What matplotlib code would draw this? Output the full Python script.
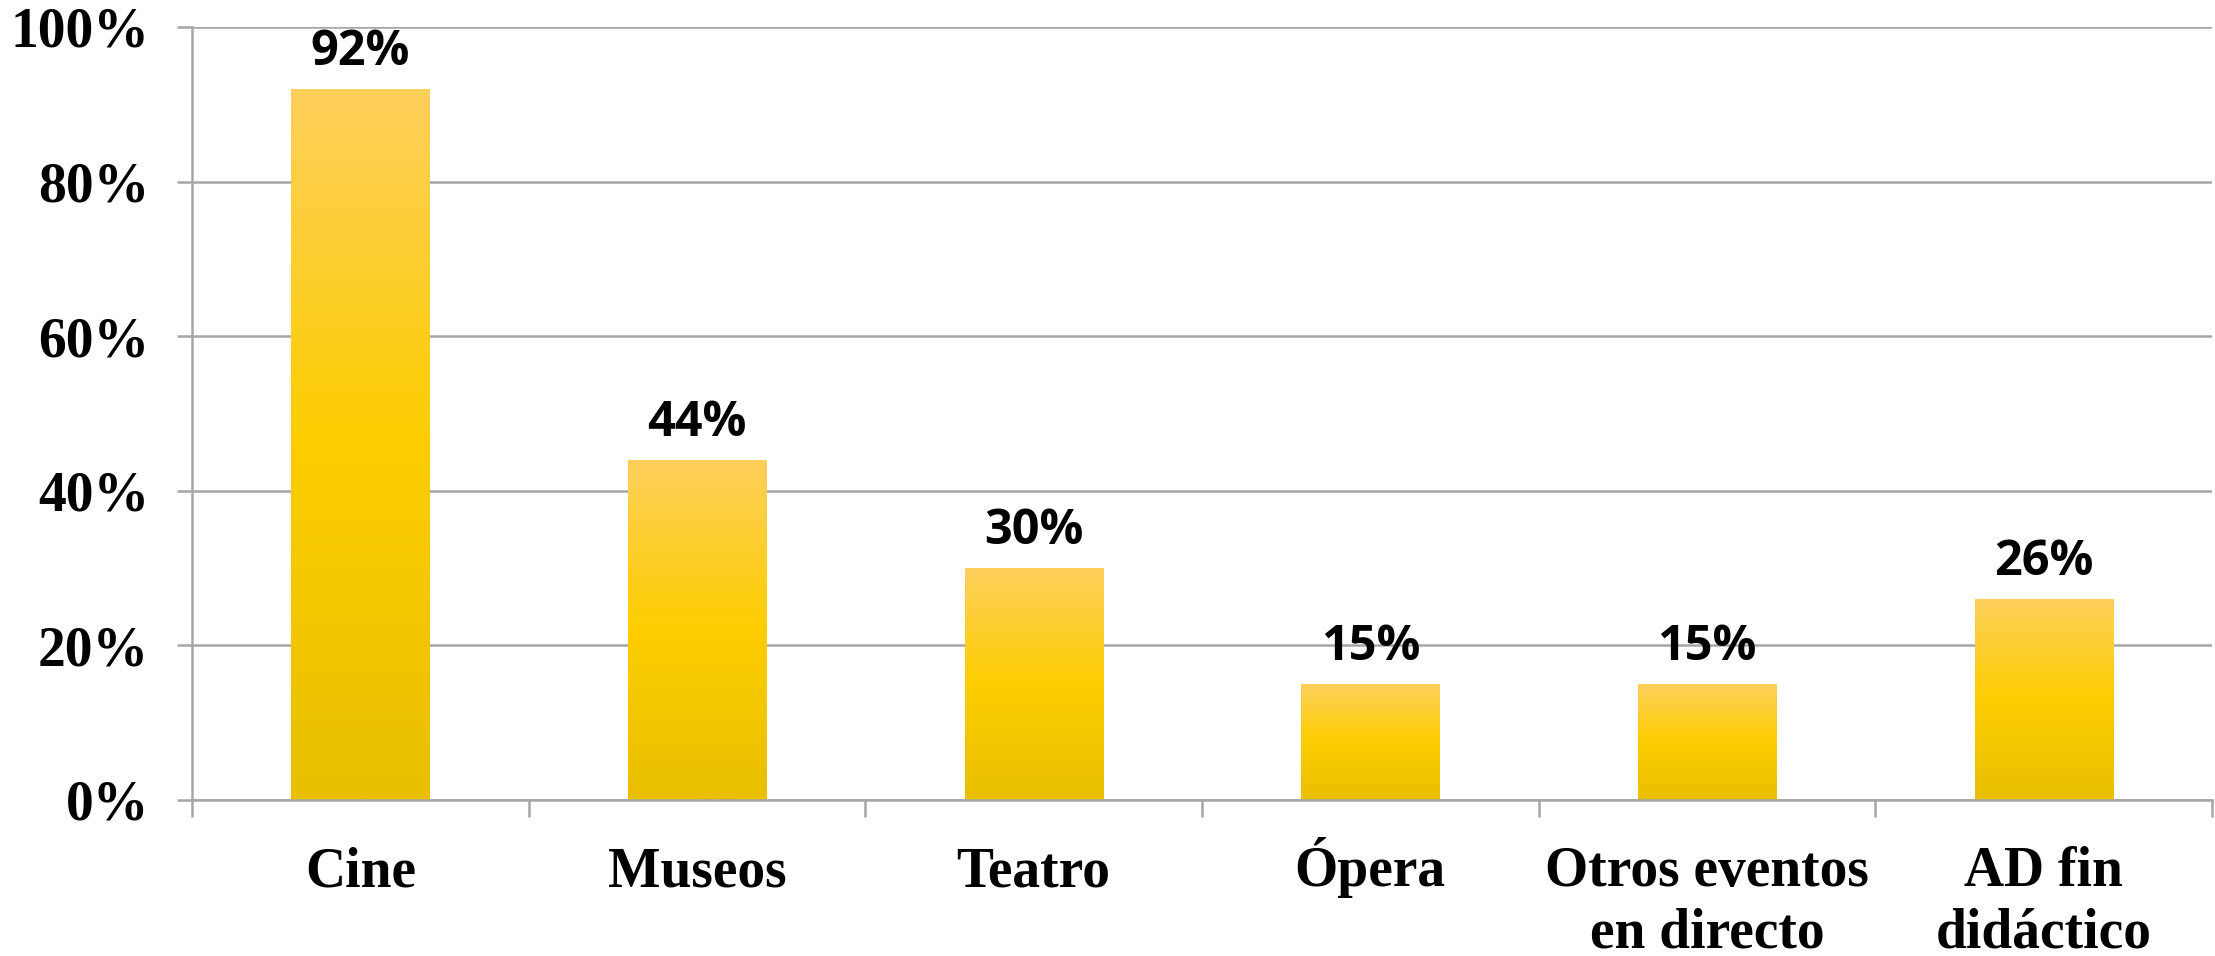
import numpy as np
import matplotlib
matplotlib.use('Agg')
import matplotlib.pyplot as plt
import matplotlib.transforms as mtransforms
from matplotlib.colors import LinearSegmentedColormap

categories = ['Cine', 'Museos', 'Teatro', 'Ópera', 'Otros eventos\nen directo', 'AD fin\ndidáctico']
values = [92, 44, 30, 15, 15, 26]
yticks = [0, 20, 40, 60, 80, 100]

GRID = '#A6A6A6'
BAR_W = 0.41
LABEL_DROP = 62    # pt from the axis down to the first baseline of a category label
LINE_GAP = 44.5    # pt between label lines

# vertical gold fill: dark at the base, saturated in the middle, pale on top
gold = LinearSegmentedColormap.from_list('gold', [
    (0.0, '#E9BF00'),
    (0.5, '#FDCD00'),
    (1.0, '#FED05C'),
])

fig = plt.figure(figsize=(22.15, 9.56), dpi=100)
ax = fig.add_axes([0.0867, 0.1632, 0.9119, 0.8086])

x = np.arange(len(categories))

grad = np.linspace(0, 1, 256).reshape(-1, 1)
for xi, v in zip(x, values):
    bar = ax.bar(xi, v, width=BAR_W, color='none', edgecolor='none', zorder=2)[0]
    im = ax.imshow(grad, cmap=gold, origin='lower', aspect='auto',
                   extent=(xi - BAR_W / 2, xi + BAR_W / 2, 0, v), zorder=2)
    im.set_clip_path(bar)
    ax.annotate('%d%%' % v, (xi, v), xytext=(0, 17), textcoords='offset points',
                ha='center', va='baseline', fontsize=35, fontweight='bold',
                family='Open Sans', color='black', zorder=3)

ax.set_xlim(-0.5, len(categories) - 0.5)
ax.set_ylim(0, 100)

ax.set_yticks(yticks)
ax.set_yticklabels(['%d%%' % t for t in yticks])
ax.yaxis.grid(True, color=GRID, linewidth=1.8, zorder=0)
ax.set_axisbelow(True)
ax.tick_params(axis='y', length=11, width=1.8, color=GRID, pad=20,
               labelsize=40)
for lab in ax.get_yticklabels():
    lab.set_family('Liberation Serif')
    lab.set_fontweight('bold')

# category separators as ticks; names written line by line on a common baseline
ax.set_xticks(np.arange(len(categories) + 1) - 0.5)
ax.set_xticklabels([])
ax.tick_params(axis='x', length=12, width=1.8, color=GRID)

base = ax.get_xaxis_transform()
for xi, name in zip(x, categories):
    for i, line in enumerate(name.split('\n')):
        tr = mtransforms.offset_copy(base, fig=fig, x=0,
                                     y=-(LABEL_DROP + i * LINE_GAP), units='points')
        ax.text(xi, 0, line, transform=tr, ha='center', va='baseline',
                fontsize=40, fontweight='bold', family='Liberation Serif',
                clip_on=False)

for side in ('top', 'right'):
    ax.spines[side].set_visible(False)
for side in ('left', 'bottom'):
    ax.spines[side].set_color(GRID)
    ax.spines[side].set_linewidth(1.8)

fig.savefig('out.png', dpi=100)
